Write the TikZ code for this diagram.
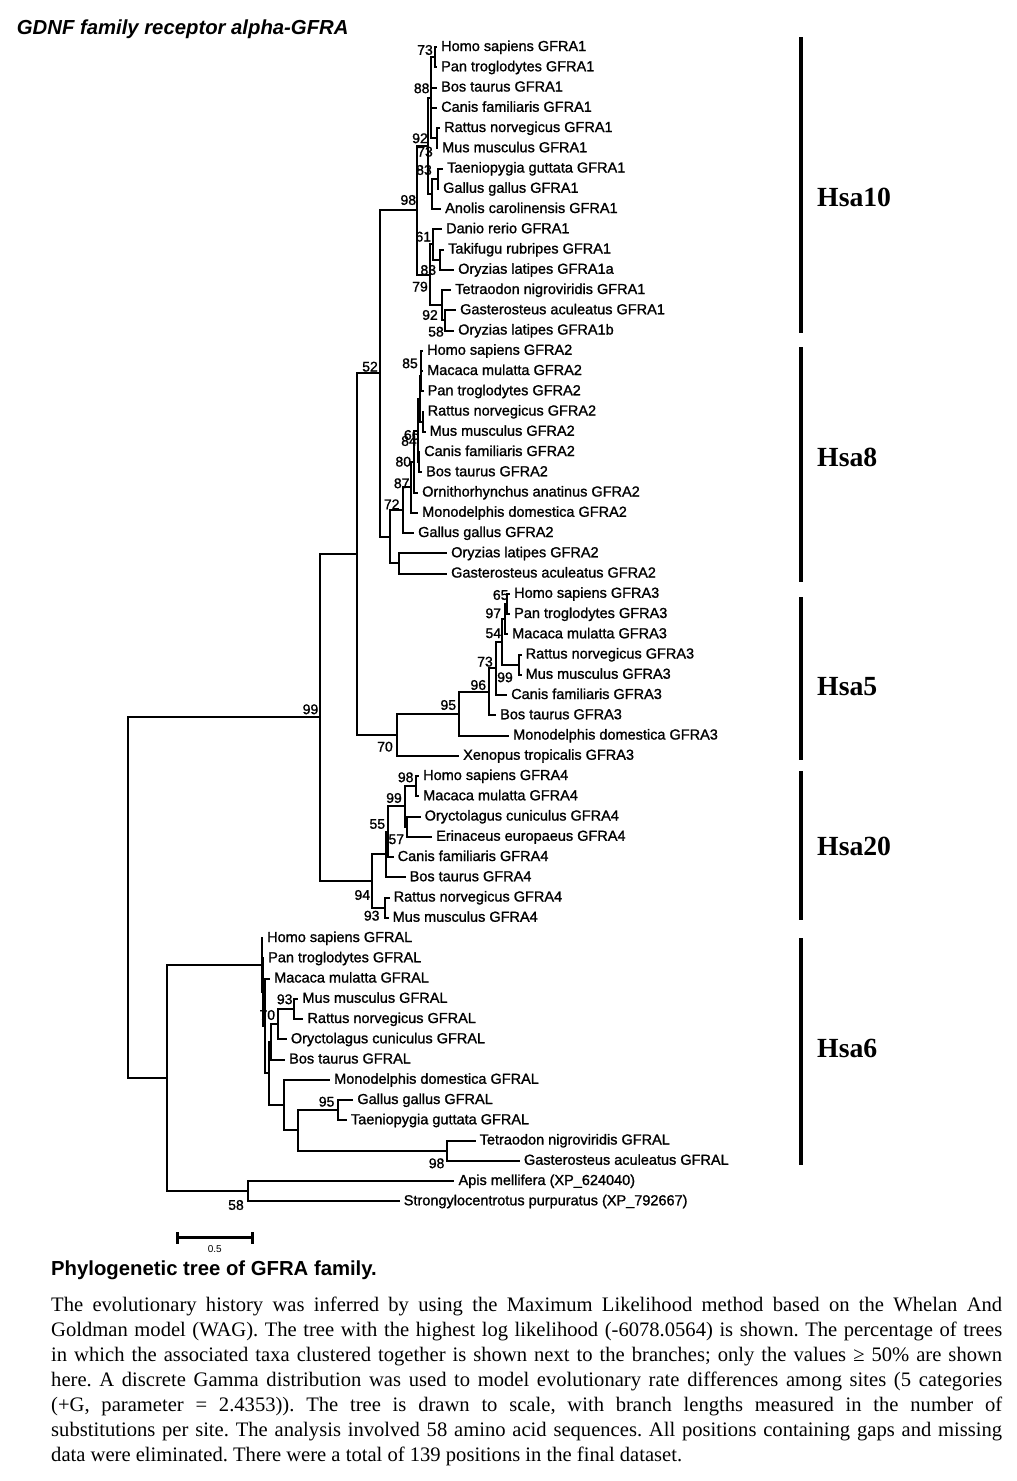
\documentclass[tikz,border=0pt]{standalone}
\usepackage{fontspec}
\setmainfont{Liberation Sans}
\newfontfamily\capserif{Liberation Serif}
\newfontfamily\treefont[FakeBold=1.2]{Liberation Sans}
\frenchspacing
\begin{document}
\begin{tikzpicture}[
        x=1pt, y=-1pt,
        branch/.style={line width=2pt},
        leaf/.style={anchor=west, inner xsep=4pt, inner ysep=0pt, text height=11pt, text depth=3pt, font=\treefont\fontsize{14.5}{16}\selectfont},
        boot/.style={inner sep=0pt, font=\treefont\fontsize{14}{16}\selectfont},
        hsabar/.style={line width=4pt},
        hsa/.style={anchor=base west, inner sep=0pt, font=\capserif\bfseries\fontsize{27.7}{30}\selectfont},
        scalebar/.style={line width=3.5pt}
    ]
        \fill[white] (0,0) rectangle (1017,1481);
        \useasboundingbox (0,0) rectangle (1017,1481);

        % Titel
        \node[anchor=base west, inner sep=0pt, font=\bfseries\itshape\fontsize{20.3}{22}\selectfont] (title) at (16.7,34.3) {GDNF family receptor alpha-GFRA};

        % Blaetter (58 Sequenzen, Zeilenabstand 20.25)
        \foreach \r/\x/\t in {
            1/437/Homo sapiens GFRA1, 2/437/Pan troglodytes GFRA1, 3/437/Bos taurus GFRA1,
            4/437/Canis familiaris GFRA1, 5/440/Rattus norvegicus GFRA1, 6/438/Mus musculus GFRA1,
            7/443/Taeniopygia guttata GFRA1, 8/439/Gallus gallus GFRA1, 9/441/Anolis carolinensis GFRA1,
            10/442/Danio rerio GFRA1, 11/444/Takifugu rubripes GFRA1, 12/454/Oryzias latipes GFRA1a,
            13/451/Tetraodon nigroviridis GFRA1, 14/456/Gasterosteus aculeatus GFRA1, 15/454/Oryzias latipes GFRA1b,
            16/423/Homo sapiens GFRA2, 17/423/Macaca mulatta GFRA2, 18/423.5/Pan troglodytes GFRA2,
            19/423.5/Rattus norvegicus GFRA2, 20/425.5/Mus musculus GFRA2, 21/420/Canis familiaris GFRA2,
            22/422/Bos taurus GFRA2, 23/418/Ornithorhynchus anatinus GFRA2, 24/418/Monodelphis domestica GFRA2,
            25/414/Gallus gallus GFRA2, 26/447/Oryzias latipes GFRA2, 27/447/Gasterosteus aculeatus GFRA2,
            28/510/Homo sapiens GFRA3, 29/510/Pan troglodytes GFRA3, 30/508/Macaca mulatta GFRA3,
            31/521.5/Rattus norvegicus GFRA3, 32/521.5/Mus musculus GFRA3, 33/507/Canis familiaris GFRA3,
            34/496/Bos taurus GFRA3, 35/509/Monodelphis domestica GFRA3, 36/459/Xenopus tropicalis GFRA3,
            37/419/Homo sapiens GFRA4, 38/419/Macaca mulatta GFRA4, 39/420.5/Oryctolagus cuniculus GFRA4,
            40/432/Erinaceus europaeus GFRA4, 41/393.5/Canis familiaris GFRA4, 42/405.5/Bos taurus GFRA4,
            43/389.5/Rattus norvegicus GFRA4, 44/388.5/Mus musculus GFRA4,
            45/263/Homo sapiens GFRAL, 46/264/Pan troglodytes GFRAL, 47/270/Macaca mulatta GFRAL,
            48/298.3/Mus musculus GFRAL, 49/303.3/Rattus norvegicus GFRAL, 50/286.7/Oryctolagus cuniculus GFRAL,
            51/285/Bos taurus GFRAL, 52/330/Monodelphis domestica GFRAL, 53/353.2/Gallus gallus GFRAL,
            54/346.8/Taeniopygia guttata GFRAL, 55/475.5/Tetraodon nigroviridis GFRAL, 56/519.8/Gasterosteus aculeatus GFRAL,
            57/454.4/Apis mellifera (XP\_624040), 58/399.6/Strongylocentrotus purpuratus (XP\_792667)}
            \node[leaf] (L\r) at (\x, {47+(\r-1)*20.25}) {\t};

        % Innere Knoten (x, Zeile)
        \foreach \n/\x/\r in {
            R/128/43.01, A/320/34.11, B/357/26.04, C/380/17.12,
            G1/417/9.0625, b1/428/5.875, a3/431/3.5, a1/435/1.5, a2/437/5.5, s2/432/8.25, s1/437.7/7.5,
            f1/430/12.25, d1/433/10.75, t1/440/11.5, f2/442/13.75, g1/445/14.5,
            G2/390/25.18, n72/403/23.87, n87/411/22.73, n80/413.5/21.47, n84/417.5/19.94, n66/420/18.375,
            np2/420.5/17.25, n85/421/16.5, rm2/422.5/19.5, cb2/419/21.5, fi2/399.3/26.5,
            n70/396.7/34.96, n95/459/33.92, n96/489/32.84, n73/495.7/31.69, n54/501.7/30.375,
            n97/505/29.25, n65/507/28.5, rm3/519/31.5,
            n94/371.7/42.19, nz/386/40.875, n55/387.5/39.75, n99/405/38.5, n98/416/37.5, n57/407.3/39.5, rm4/385/43.5,
            Lr/166.7/51.92, GL/261.7/46.34, nL1/262.7/47.67, nL2/265/49.34, nL3/268.5/51.69, nb2/270.7/50.125,
            nmro/278.3/49.25, n93L/294.3/48.5, nm/283.5/53.25, nbf/298.3/54.5, nbird/338.4/53.5, nfish/446.8/55.5,
            AS/247.7/57.5}
            \coordinate (\n) at (\x, {47+(\r-1)*20.25});

        % Bootstrap-Werte
        \foreach \x/\y/\v [count=\k] in {
            425/50/73, 421.7/88.3/88, 420/138.3/92, 425/151.7/73, 424/170/83, 408.3/200/98,
            423.3/236.7/61, 428.3/270/83, 420/286.7/79, 430/315/92, 436/331.7/58,
            370/366.7/52, 410/363.3/85, 411.7/435/66, 409/441/84, 403.3/461.7/80, 401.7/483.3/87, 391.7/504.3/72,
            500.7/595/65, 493.3/613.3/97, 493.3/633.3/54, 485/661.7/73, 505/677.3/99, 478.3/685/96,
            448.3/705/95, 385/746.7/70, 310.5/709.3/99,
            405.7/777.3/98, 394/798/99, 377.3/824/55, 396.3/839.3/57, 362.3/895/94, 371.7/915.7/93,
            284.7/999.3/93, 267.3/1015/70, 326.6/1101.7/95, 436.6/1163.3/98, 236/1205/58}
            \node[boot] (bs\k) at (\x,\y) {\v};

        % Verbindungen
        \foreach \p/\c in {
            R/A, R/Lr, A/B, A/n94, B/C, B/n70, C/G1, C/G2,
            G1/b1, G1/f1, b1/a3, b1/s2, a3/a1, a3/L3, a3/L4, a3/a2,
            a1/L1, a1/L2, a2/L5, a2/L6, s2/s1, s2/L9, s1/L7, s1/L8,
            f1/d1, f1/f2, d1/L10, d1/t1, t1/L11, t1/L12, f2/L13, f2/g1, g1/L14, g1/L15,
            G2/n72, G2/fi2, n72/n87, n72/L25, n87/n80, n87/L24, n80/n84, n80/L23,
            n84/n66, n84/cb2, n66/np2, n66/rm2, np2/n85, np2/L18, n85/L16, n85/L17,
            rm2/L19, rm2/L20, cb2/L21, cb2/L22, fi2/L26, fi2/L27,
            n70/n95, n70/L36, n95/n96, n95/L35, n96/n73, n96/L34, n73/n54, n73/L33,
            n54/n97, n54/rm3, n97/n65, n97/L30, n65/L28, n65/L29, rm3/L31, rm3/L32,
            n94/nz, n94/rm4, nz/n55, nz/L42, n55/n99, n55/L41, n99/n98, n99/n57,
            n98/L37, n98/L38, n57/L39, n57/L40, rm4/L43, rm4/L44,
            Lr/GL, Lr/AS, GL/L45, GL/nL1, nL1/L46, nL1/nL2, nL2/L47, nL2/nL3,
            nL3/nb2, nL3/nm, nb2/nmro, nb2/L51, nmro/n93L, nmro/L50, n93L/L48, n93L/L49,
            nm/L52, nm/nbf, nbf/nbird, nbf/nfish, nbird/L53, nbird/L54, nfish/L55, nfish/L56,
            AS/L57, AS/L58}
            \draw[branch] (\p) |- (\c);

        % Chromosomen-Balken
        \foreach \a/\b/\y/\t in {37/333/206/Hsa10, 347/582/466/Hsa8, 597/760/695/Hsa5, 771/920/855/Hsa20, 938/1165/1057/Hsa6} {
            \draw[hsabar] (801,\a) -- (801,\b);
            \node[hsa] (lab\t) at (817,\y) {\t};
        }

        % Massstab
        \coordinate (sbL) at (177,1237.7);
        \coordinate (sbR) at (252,1237.7);
        \draw[scalebar] (sbL) -- (sbR);
        \draw[line width=3pt] ([yshift=-6pt]sbL) -- ([yshift=6pt]sbL);
        \draw[line width=3pt] ([yshift=-6pt]sbR) -- ([yshift=6pt]sbR);
        \node[inner sep=0pt, font=\fontsize{10}{12}\selectfont] (sblab) at (214.8,1249.3) {0.5};

        % Legende
        \node[anchor=base west, inner sep=0pt, font=\bfseries\fontsize{20.3}{24}\selectfont] (captitle) at (51,1275.5) {Phylogenetic tree of GFRA family.};
        \node[anchor=north west, inner sep=0pt, text width=951pt, align=justify,
              font=\capserif\fontsize{20.6}{25}\selectfont] (capbody) at (51,1293.5) {\noindent\strut The evolutionary history was inferred by using the Maximum Likelihood method based on the Whelan And\linebreak
            Goldman model (WAG). The tree with the highest log likelihood (-6078.0564) is shown. The percentage of trees\linebreak
            in which the associated taxa clustered together is shown next to the branches; only the values ≥ 50\% are shown\linebreak
            here. A discrete Gamma distribution was used to model evolutionary rate differences among sites (5 categories\linebreak
            (+G, parameter = 2.4353)). The tree is drawn to scale, with branch lengths measured in the number of\linebreak
            substitutions per site. The analysis involved 58 amino acid sequences. All positions containing gaps and missing\linebreak
            data were eliminated. There were a total of 139 positions in the final dataset.};

    \end{tikzpicture}
\end{document}
